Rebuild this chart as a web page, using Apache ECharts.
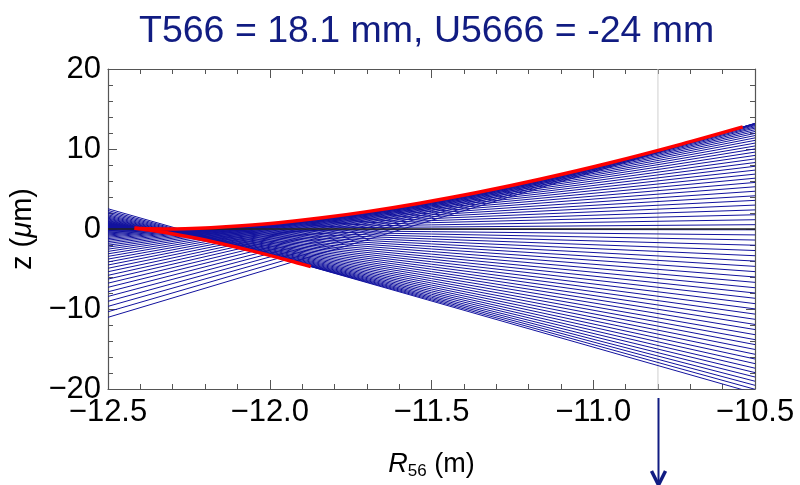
<!DOCTYPE html>
<html><head><meta charset="utf-8">
<script src="https://cdn.jsdelivr.net/npm/echarts/dist/echarts.min.js"></script>
<style>html,body{margin:0;padding:0;background:#fff}#c{width:800px;height:485px}</style>
</head><body><div id="c"></div>
<script>
// x positions where every straight line is sampled (plot edges)
const lineX = [-12.5, -10.5];
// z value of each fan line at the left edge (R56 = -12.5)
const lineLeft = [2.53,2.32,2.13,1.95,1.78,1.63,1.49,1.36,1.25,1.14,
  1.04,0.96,0.88,0.81,0.75,0.69,0.64,0.60,0.56,0.52,
  0.48,0.45,0.42,0.39,0.37,0.34,0.31,0.28,0.24,0.20,
  0.16,0.12,0.07,0.01,-0.05,-0.13,-0.20,-0.29,-0.39,-0.49,
  -0.61,-0.74,-0.88,-1.03,-1.20,-1.38,-1.58,-1.79,-2.02,-2.26,
  -2.52,-2.80,-3.10,-3.42,-3.76,-4.12,-4.50,-4.91,-5.34,-5.79,
  -6.26,-6.77,-7.29,-7.85,-8.43,-9.04,-9.67,-10.34,-11.04];
// z value of each fan line at the right edge (R56 = -10.5)
const lineRight = [-20.53,-20.04,-19.54,-19.03,-18.50,-17.95,-17.40,-16.83,-16.25,-15.66,
  -15.06,-14.45,-13.83,-13.21,-12.57,-11.93,-11.29,-10.64,-9.99,-9.33,
  -8.66,-8.00,-7.34,-6.67,-6.00,-5.33,-4.67,-4.01,-3.34,-2.69,
  -2.03,-1.38,-0.74,-0.10,0.54,1.16,1.78,2.39,2.99,3.58,
  4.15,4.72,5.28,5.82,6.35,6.86,7.36,7.84,8.31,8.76,
  9.20,9.61,10.01,10.38,10.74,11.08,11.39,11.68,11.95,12.19,
  12.41,12.61,12.77,12.92,13.03,13.12,13.18,13.20,13.20];
// red envelope curves
const upperR = [-12.418,-12.403,-12.372,-12.325,-12.262,-12.182,-12.086,-11.973,-11.844,-11.699,-11.537,-11.359,-11.165,-10.954,-10.727,-10.538];
const upperZ = [0.10,0.07,0.02,0.00,0.03,0.15,0.40,0.79,1.37,2.17,3.23,4.56,6.22,8.22,10.61,12.76];
const lowerR = [-12.418,-12.415,-12.396,-12.362,-12.310,-12.243,-12.159,-12.058,-11.941,-11.873];
const lowerZ = [0.10,0.09,0.01,-0.19,-0.52,-1.03,-1.74,-2.70,-3.93,-4.70];
// reference lines
const zeroLineX = [-12.5, -10.5];
const zeroLineZ = [0, 0];
const markerR = -10.8;
const markerZ = [-20, 20];
const arrowZ = -20;

const TITLE = 'T566 = 18.1 mm, U5666 = -24 mm';
const BLUE = '#12129e', NAVY = '#111c82', AX = '#555';
const TICKFONT = 'Liberation Sans';
const fmtX = v => (v < 0 ? '\u2212' : '') + Math.abs(v).toFixed(1);
const fmtY = v => (v < 0 ? '\u2212' : '') + Math.abs(v).toFixed(0);

const series = [];
lineLeft.forEach((zl, i) => {
  series.push({type: 'line', data: [[lineX[0], zl], [lineX[1], lineRight[i]]], symbol: 'none', silent: true, clip: true,
    lineStyle: {color: BLUE, width: 1}, z: 2});
});
series.push({type: 'line', data: markerZ.map(z => [markerR, z]), symbol: 'none', silent: true,
  lineStyle: {color: '#cfcfcf', width: 1}, z: 1});
series.push({type: 'line', data: zeroLineX.map((x, i) => [x, zeroLineZ[i]]), symbol: 'none', silent: true,
  lineStyle: {color: '#222', width: 1.5}, z: 3});
series.push({type: 'line', data: upperR.map((x, i) => [x, upperZ[i]]), symbol: 'none', silent: true, smooth: 0.3,
  lineStyle: {color: '#ff0000', width: 3.5}, z: 4});
series.push({type: 'line', data: lowerR.map((x, i) => [x, lowerZ[i]]), symbol: 'none', silent: true, smooth: 0.3,
  lineStyle: {color: '#ff0000', width: 3.5}, z: 4});

const xBase = {type: 'value', min: -12.5, max: -10.5, interval: 0.5, splitLine: {show: false},
  axisLine: {show: true, onZero: false, lineStyle: {color: AX, width: 1.2}},
  axisTick: {show: true, inside: true, length: 9, lineStyle: {color: AX}},
  minorTick: {show: true, inside: true, splitNumber: 5, length: 5, lineStyle: {color: AX}}};
const yBase = {type: 'value', min: -20, max: 20, interval: 10, splitLine: {show: false},
  axisLine: {show: true, onZero: false, lineStyle: {color: AX, width: 1.2}},
  axisTick: {show: true, inside: true, length: 9, lineStyle: {color: AX}},
  minorTick: {show: true, inside: true, splitNumber: 5, length: 5, lineStyle: {color: AX}}};

const chart = echarts.init(document.getElementById('c'), null, {renderer: 'canvas'});
chart.setOption({
  animation: false,
  backgroundColor: '#fff',
  title: {text: TITLE, left: 134, top: 8, textStyle: {fontFamily: 'Liberation Sans', fontSize: 37.5, fontWeight: 'normal', color: NAVY}},
  grid: {left: 108, right: 45, top: 69, bottom: 92, containLabel: false},
  xAxis: [
    Object.assign({}, xBase, {position: 'bottom',
      name: '{i|R}{s|56}{n| (m)}', nameLocation: 'middle', nameGap: 60,
      nameTextStyle: {fontFamily: 'Liberation Sans', fontSize: 27, color: '#000',
        rich: {i: {fontStyle: 'italic', fontFamily: 'Liberation Sans', fontSize: 27},
               s: {fontFamily: 'Liberation Sans', fontSize: 17, padding: [14, 0, 0, 0]},
               n: {fontFamily: 'Liberation Sans', fontSize: 27}}},
      axisLabel: {formatter: fmtX, fontFamily: TICKFONT, fontSize: 31, color: '#000', margin: 8}}),
    Object.assign({}, xBase, {position: 'top', axisLabel: {show: false}})
  ],
  yAxis: [
    Object.assign({}, yBase, {position: 'left',
      name: 'z ({i|\u03bc}m)', nameLocation: 'middle', nameGap: 60,
      nameTextStyle: {fontFamily: 'Liberation Sans', fontSize: 29, color: '#000',
        rich: {i: {fontStyle: 'italic', fontFamily: 'Liberation Sans', fontSize: 29}}},
      axisLabel: {formatter: fmtY, fontFamily: TICKFONT, fontSize: 31, color: '#000', margin: 7}}),
    Object.assign({}, yBase, {position: 'right', axisLabel: {show: false}})
  ],
  series: series
});

// arrow below the marker line
const p = chart.convertToPixel({xAxisIndex: 0, yAxisIndex: 0}, [markerR, arrowZ]);
const ax = Math.round(p[0]) + 0.5, y0 = p[1] + 9, tip = 485;
chart.setOption({graphic: [
  {type: 'line', shape: {x1: ax, y1: y0, x2: ax, y2: tip}, style: {stroke: NAVY, lineWidth: 2}},
  {type: 'polyline', shape: {points: [[ax - 7, tip - 14], [ax, tip], [ax + 7, tip - 14]]}, style: {stroke: NAVY, lineWidth: 3.5, fill: null}}
]});
</script></body></html>
